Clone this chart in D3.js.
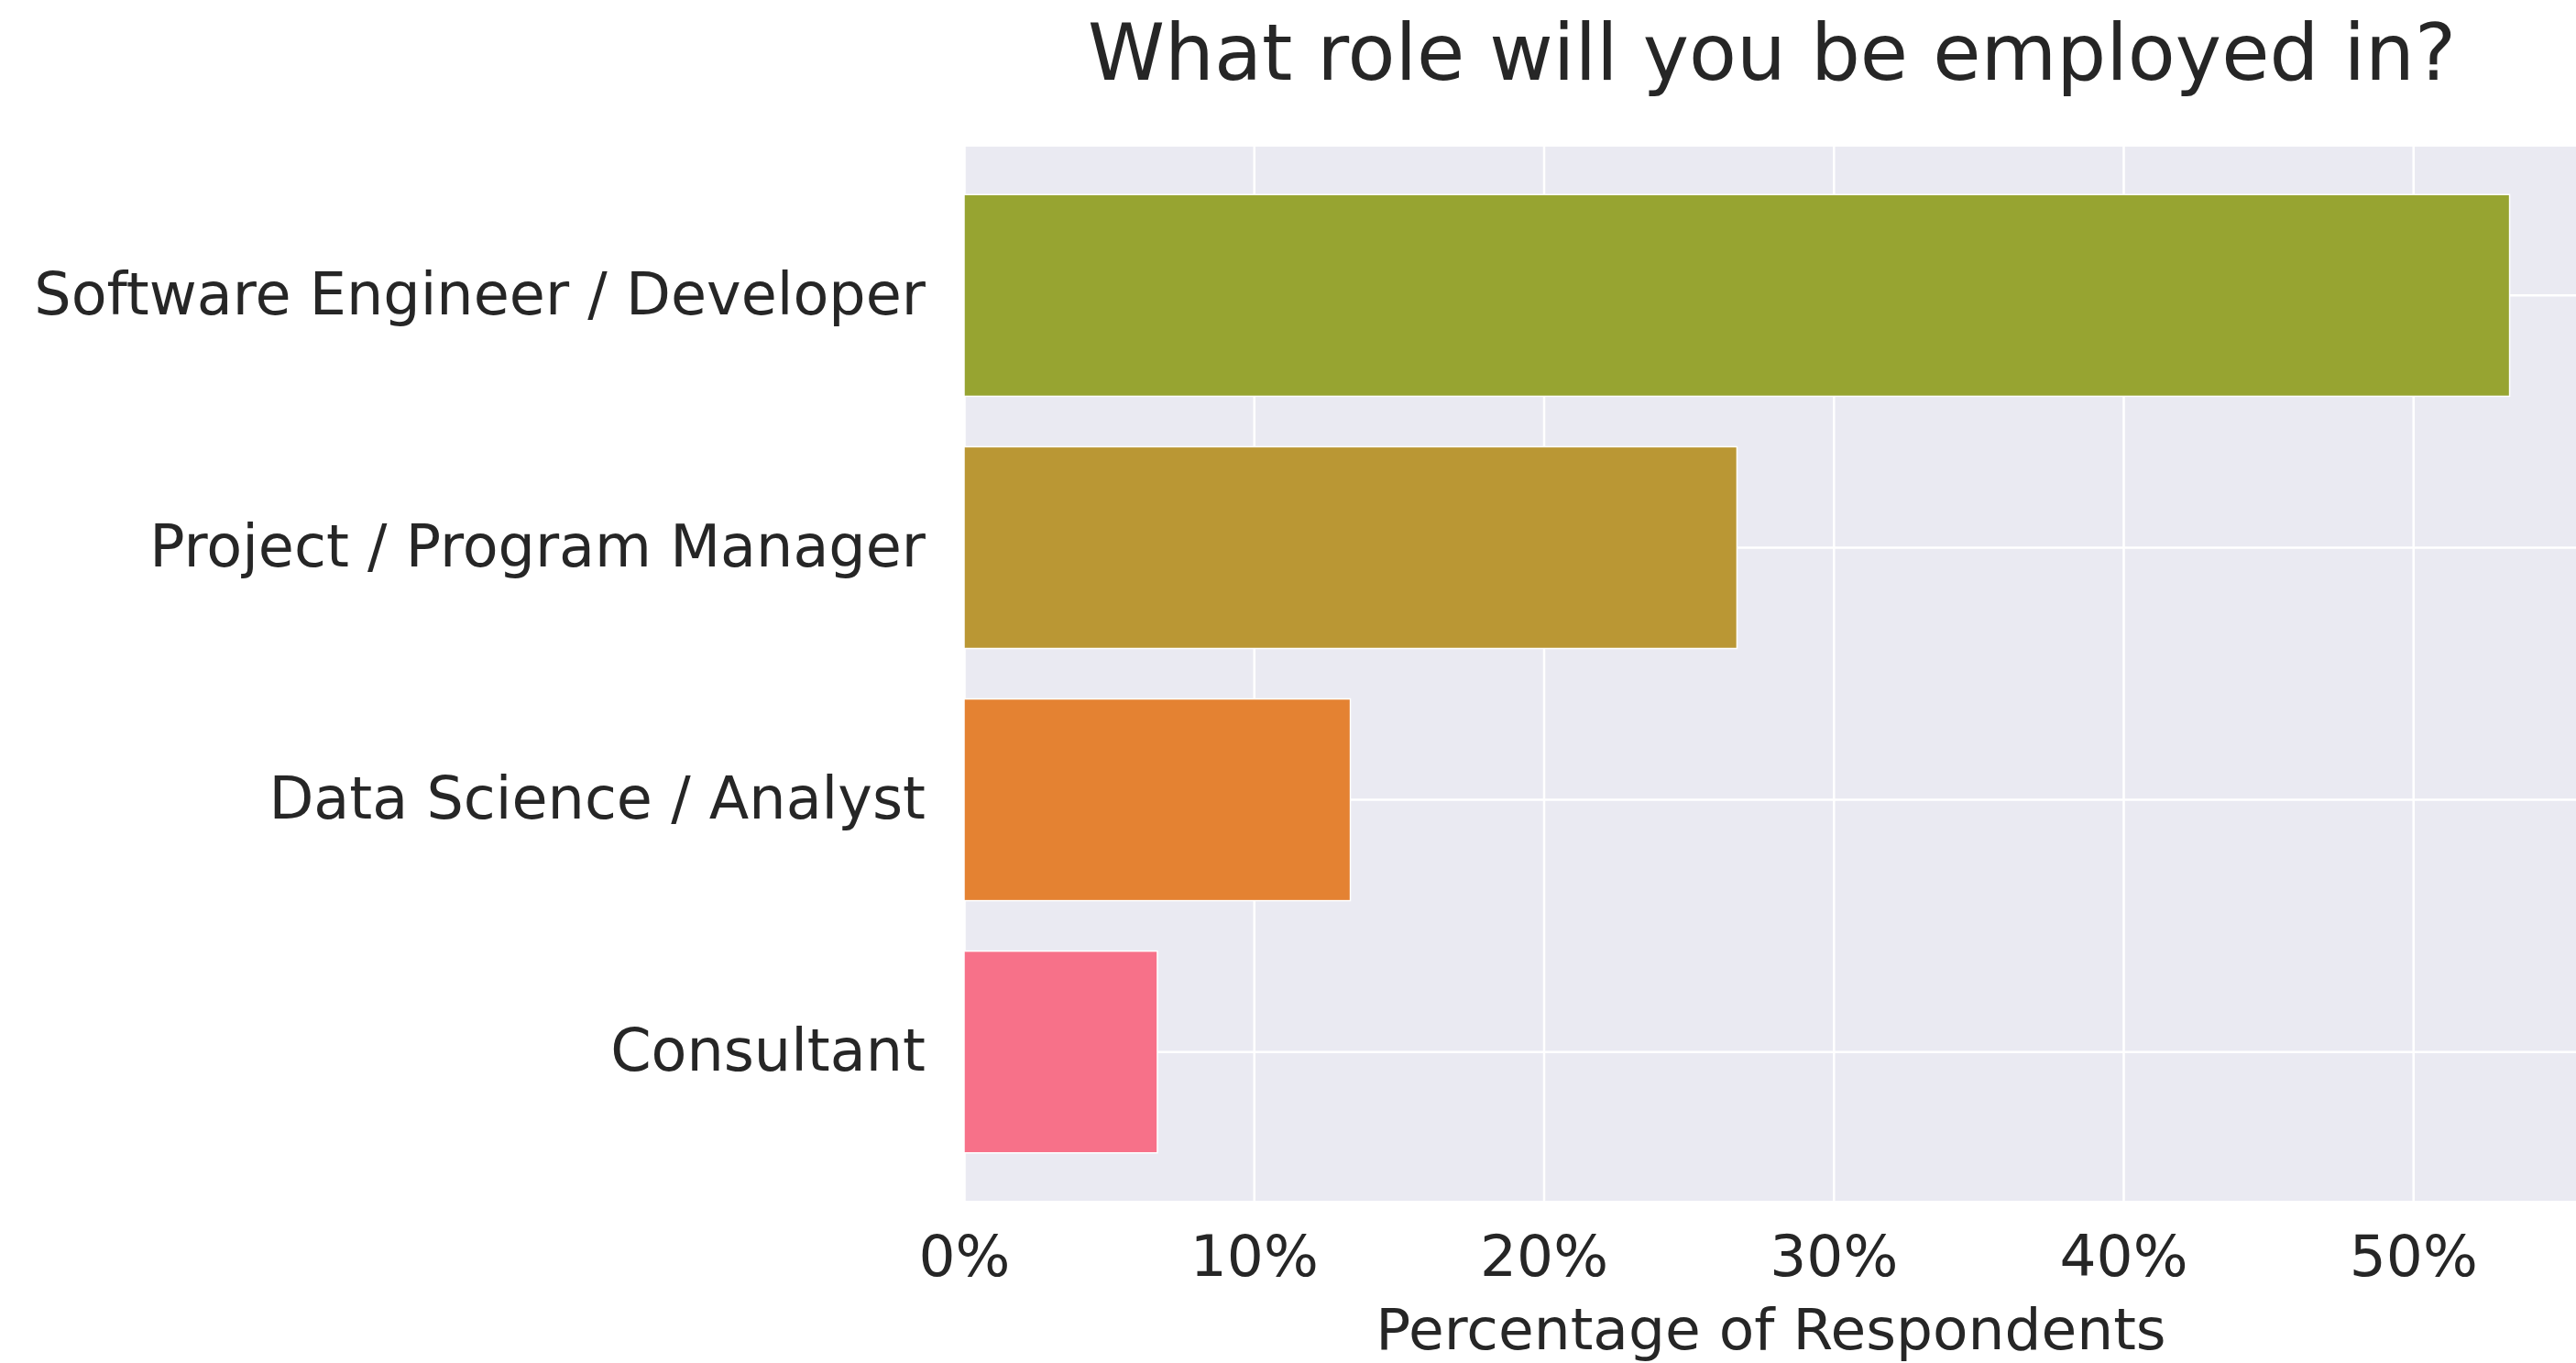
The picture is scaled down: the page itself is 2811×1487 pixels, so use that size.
<!DOCTYPE html>
<meta charset="utf-8">
<style>
body { margin: 0; background: #fff; }
text { font-family: "DejaVu Sans", sans-serif; fill: #262626; }
.grid line { stroke: #fff; stroke-width: 2.5px; }
.grid path { display: none; }
</style>
<body>
<svg width="2811" height="1487"></svg>
<script src="https://cdn.jsdelivr.net/npm/d3@7"></script>
<script>

var roles = ["Software Engineer / Developer", "Project / Program Manager", "Data Science / Analyst", "Consultant"],
    shares = [53.33, 26.67, 13.33, 6.67],
    colors = ["#97a431", "#ba9734", "#e48232", "#f77189"],
    xTicks = [0, 10, 20, 30, 40, 50];

var svg = d3.select("svg"),
    margin = {top: 160, right: -12, bottom: 177, left: 1052},
    width = svg.attr("width") - margin.left - margin.right,
    height = svg.attr("height") - margin.top - margin.bottom,
    g = svg.append("g").attr("transform", "translate(" + margin.left + "," + margin.top + ")");

var x = d3.scaleLinear().domain([0, 56]).range([0, width]),
    y = d3.scaleBand().domain(roles).range([0, height]).paddingInner(0.2).paddingOuter(0.19);

g.append("rect")
    .attr("width", width)
    .attr("height", height)
    .attr("fill", "#eaeaf2");

// vertical grid
g.append("g")
    .attr("class", "grid")
    .call(d3.axisBottom(x).tickValues(xTicks).tickSize(height).tickFormat(""))
  .selectAll("text").remove();

// horizontal grid at band centres
g.append("g")
    .attr("class", "grid")
    .selectAll("line")
    .data(roles)
    .enter().append("line")
      .attr("x1", 0)
      .attr("x2", width)
      .attr("y1", function(d) { return y(d) + y.bandwidth() / 2; })
      .attr("y2", function(d) { return y(d) + y.bandwidth() / 2; });

g.selectAll(".bar")
    .data(roles)
  .enter().append("rect")
    .attr("class", "bar")
    .attr("x", x(0))
    .attr("y", function(d) { return y(d); })
    .attr("width", function(d, i) { return x(shares[i]); })
    .attr("height", y.bandwidth())
    .attr("fill", function(d, i) { return colors[i]; })
    .attr("stroke", "#fff")
    .attr("stroke-width", 1.5);

// y labels
var yAxis = g.append("g")
    .call(d3.axisLeft(y).tickSize(0).tickPadding(42));
yAxis.select(".domain").remove();
yAxis.selectAll("text")
    .style("font-size", "63.6px")
    .style("font-family", "DejaVu Sans")
    .attr("fill", "#262626");

// x labels
var xAxis = g.append("g")
    .attr("transform", "translate(0," + height + ")")
    .call(d3.axisBottom(x).tickValues(xTicks).tickSize(0).tickPadding(37)
      .tickFormat(function(d) { return d + "%"; }));
xAxis.select(".domain").remove();
xAxis.selectAll("text")
    .style("font-size", "63px")
    .style("font-family", "DejaVu Sans")
    .attr("fill", "#262626");

svg.append("text")
    .attr("x", margin.left + (width) / 2 - 5)
    .attr("y", 1472)
    .attr("text-anchor", "middle")
    .style("font-size", "63px")
    .text("Percentage of Respondents");

svg.append("text")
    .attr("x", margin.left + width / 2 - 4)
    .attr("y", 87)
    .attr("text-anchor", "middle")
    .style("font-size", "85px")
    .text("What role will you be employed in?");

</script>
</body>
